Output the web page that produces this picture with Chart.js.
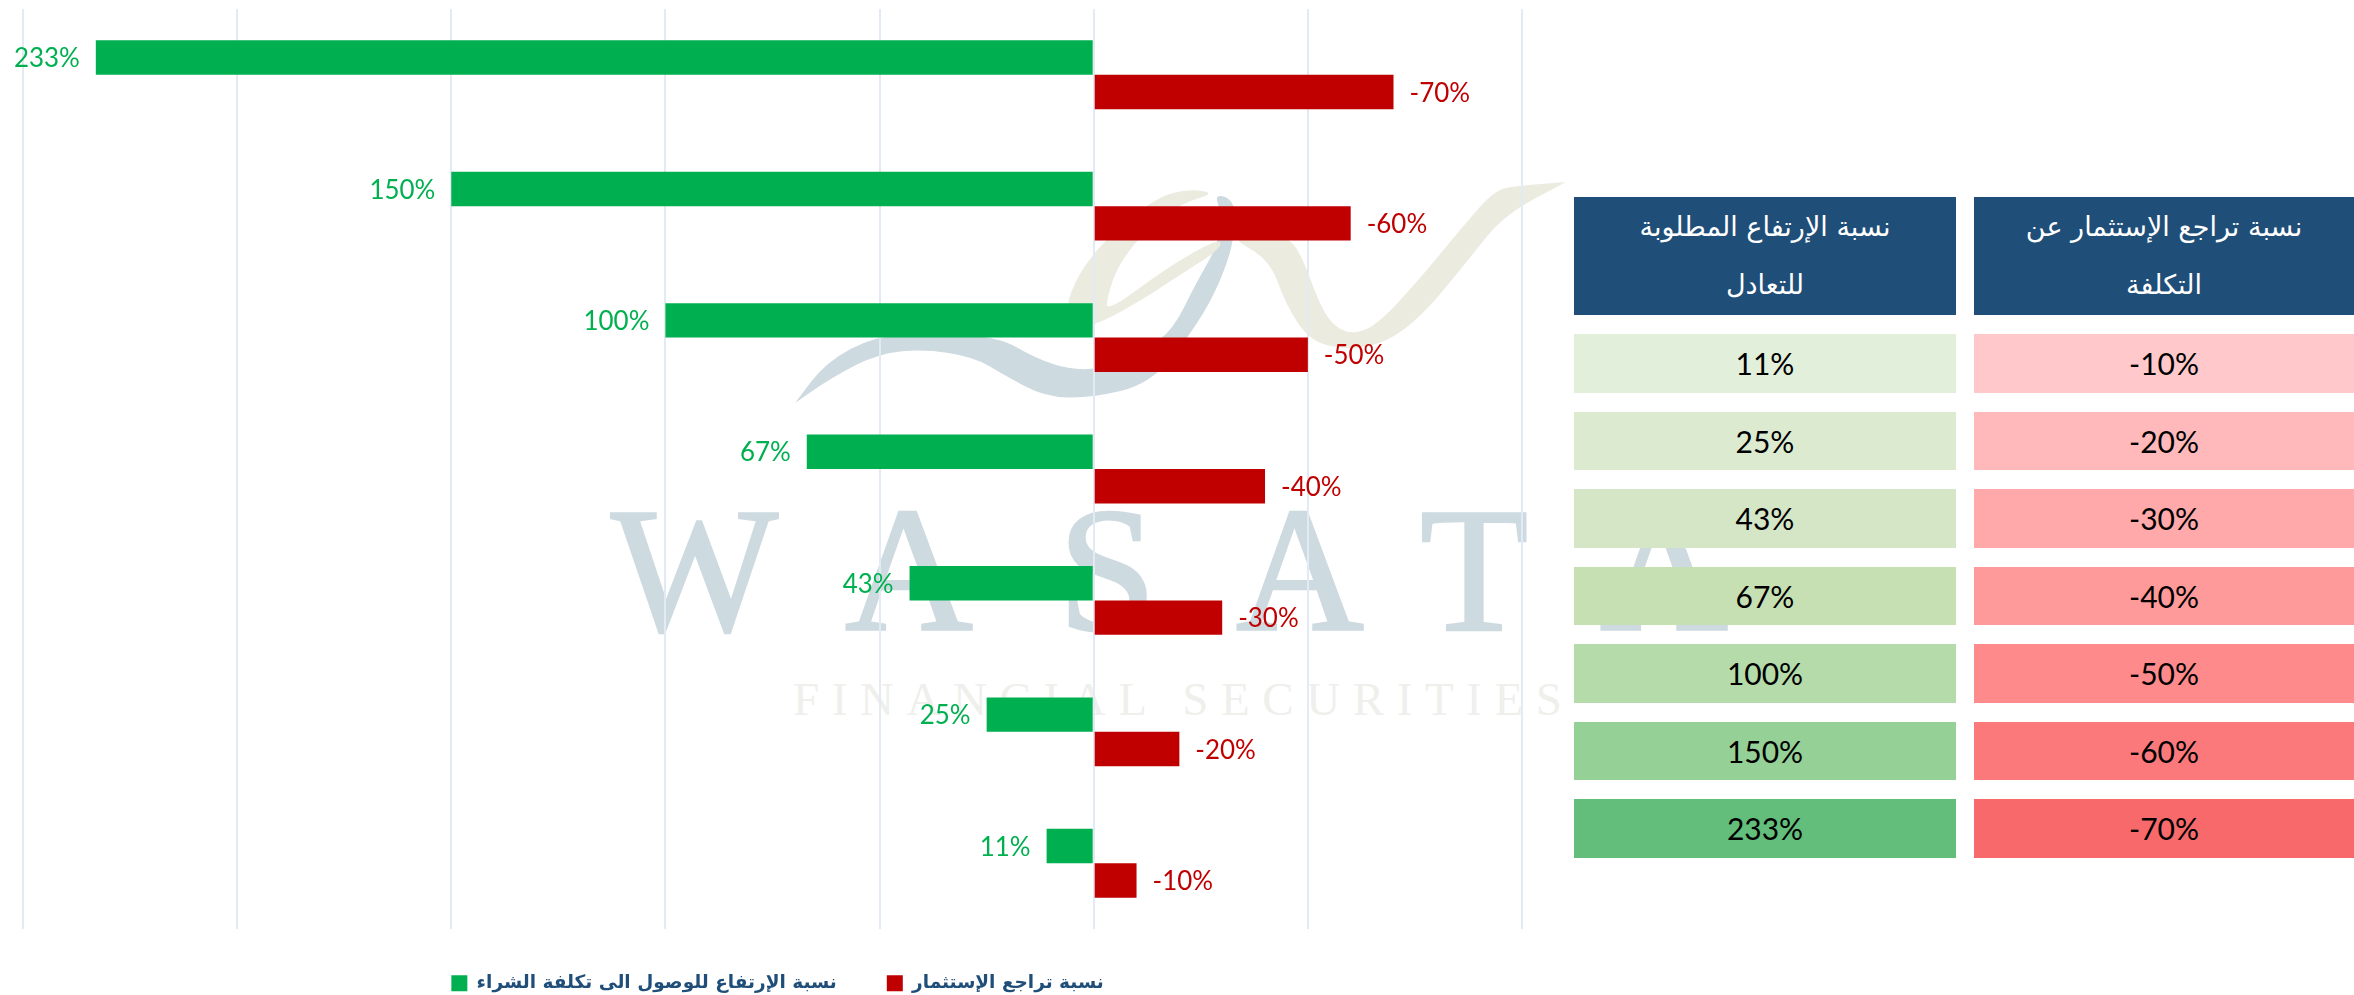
<!DOCTYPE html>
<html lang="ar">
<head>
<meta charset="utf-8">
<title>نسبة الإرتفاع المطلوبة للتعادل</title>
<script src="https://cdn.jsdelivr.net/npm/chart.js@4"></script>
<style>
  html, body { margin: 0; padding: 0; background: #fff; }
  #page { position: relative; width: 2354px; height: 995px; overflow: hidden; }
  #mark { position: absolute; left: 0; top: 0; }
  #wrap { position: absolute; left: 0; top: 0; width: 1574px; height: 995px; }
  .cell {
    position: absolute; display: flex; align-items: center; justify-content: center;
    font-family: Lato, sans-serif; font-size: 30px; color: #000;
  }
  .head {
    color: #fff; text-align: center; direction: rtl; white-space: pre-line;
    font-family: "DejaVu Sans", sans-serif; font-size: 27px; line-height: 58px;
  }
</style>
</head>
<body>
<div id="page">
  <svg id="mark" width="2354" height="995">
    <path id="swoosh" fill="#cddae0"/>
    <path id="loop" fill="#ebebdf"/>
    <path id="wave" fill="#ebebdf"/>
    <text font-family="Liberation Serif" font-size="177" fill="#cddae0" stroke="#cddae0" stroke-width="2.5" y="630" x="611 845 1058 1236 1420 1600">WASATA</text>
    <text font-family="Liberation Serif" font-size="47" fill="#efefec" y="715" x="793" textLength="769">FINANCIAL SECURITIES</text>
  </svg>
  <div id="wrap"><canvas id="chart-canvas"></canvas></div>
</div>
<script>
// -- Data -------------------------------------------------------------------

const categories = ['-70%', '-60%', '-50%', '-40%', '-30%', '-20%', '-10%'];
const requiredRise = [233, 150, 100, 67, 43, 25, 11];
const investmentDrop = [-70, -60, -50, -40, -30, -20, -10];

const riseLegend = 'نسبة الإرتفاع للوصول الى تكلفة الشراء';
const dropLegend = 'نسبة تراجع الإستثمار';

const tableHeaders = ['نسبة الإرتفاع المطلوبة\nللتعادل', 'نسبة تراجع الإستثمار عن\nالتكلفة'];
const tableRise = ['11%', '25%', '43%', '67%', '100%', '150%', '233%'];
const tableDrop = ['-10%', '-20%', '-30%', '-40%', '-50%', '-60%', '-70%'];
const riseShades = ['#e2efda', '#dcebd0', '#d5e6c6', '#c6e0b4', '#b4dba9', '#95d096', '#63be7b'];
const dropShades = ['#ffc9cb', '#ffb9ba', '#ffa9aa', '#ff9a9b', '#ff8a8b', '#fc797b', '#f8696b'];

const GREEN = '#00b050';
const RED = '#c00000';

// -- Watermark outlines (logo behind the chart, not data) --------------------
// A point listed twice keeps its corner sharp after smoothing

const swooshOutline = [[795, 403], [795, 403], [826, 362], [875, 336], [933, 333], [999, 337], [1035, 358], [1071, 370],
  [1107, 368], [1145, 350], [1173, 330], [1196, 283], [1217, 247], [1222, 215], [1214, 193], [1236, 201],
  [1234, 243], [1216, 292], [1190, 335], [1150, 384], [1091, 398], [1045, 397], [1004, 375], [974, 357],
  [923, 349], [877, 354], [831, 378]];
const loopOutline = [[1216, 193], [1188, 189], [1158, 197], [1115, 230], [1084, 265], [1067, 300], [1068, 326],
  [1094, 326], [1137, 303], [1183, 273], [1222, 248], [1219, 238], [1168, 267], [1107, 312], [1107, 297],
  [1119, 263], [1152, 223], [1183, 203]];
const waveOutline = [[1229, 237], [1270, 260], [1285, 303], [1310, 342], [1351, 350], [1387, 342], [1423, 315],
  [1469, 259], [1504, 215], [1566, 182], [1566, 182], [1515, 186], [1494, 191], [1464, 225], [1418, 281], [1377, 325],
  [1354, 334], [1336, 328], [1321, 308], [1300, 251], [1285, 236], [1260, 235]];

function smoothPath(points) {
  const mid = (a, b) => [(a[0] + b[0]) / 2, (a[1] + b[1]) / 2];
  let d = 'M' + mid(points[points.length - 1], points[0]).join(' ');
  points.forEach((p, i) => {
    d += ' Q' + p.join(' ') + ' ' + mid(p, points[(i + 1) % points.length]).join(' ');
  });
  return d + ' Z';
}

document.getElementById('swoosh').setAttribute('d', smoothPath(swooshOutline));
document.getElementById('loop').setAttribute('d', smoothPath(loopOutline));
document.getElementById('wave').setAttribute('d', smoothPath(waveOutline));

// -- Value labels -----------------------------------------------------------

const valueLabels = {
  id: 'valueLabels',
  afterDatasetsDraw(chart) {
    const { ctx } = chart;
    chart.data.datasets.forEach((dataset, di) => {
      chart.getDatasetMeta(di).data.forEach((bar, index) => {
        const value = dataset.data[index];
        ctx.save();
        ctx.direction = 'ltr';
        ctx.fillStyle = dataset.backgroundColor;
        ctx.font = '27px Lato';
        ctx.textBaseline = 'middle';
        ctx.textAlign = value > 0 ? 'right' : 'left';
        // Slightly condensed, the original face is narrower than Lato
        ctx.translate(bar.x + (value > 0 ? -16 : 16), bar.y + 1);
        ctx.scale(0.96, 1);
        ctx.fillText(value + '%', 0, 0);
        ctx.restore();
      });
    });
  },
};

// Legend needs wide item gaps but no tall band under the plot
const legendFit = {
  id: 'legendFit',
  beforeInit(chart) {
    const legend = chart.legend;
    const fit = legend.fit;
    const drawItems = legend._draw;
    legend.fit = function () {
      fit.call(this);
      this.height = 66;
    };
    legend._draw = function () {
      this.ctx.save();
      this.ctx.translate(9, -5);
      drawItems.call(this);
      this.ctx.restore();
    };
  },
};

// -- Chart ------------------------------------------------------------------

new Chart(document.getElementById('chart-canvas'), {
  type: 'bar',
  data: {
    labels: categories,
    datasets: [
      { label: riseLegend, data: requiredRise, backgroundColor: GREEN, borderWidth: 0 },
      { label: dropLegend, data: investmentDrop, backgroundColor: RED, borderWidth: 0 },
    ],
  },
  options: {
    indexAxis: 'y',
    responsive: true,
    maintainAspectRatio: false,
    animation: false,
    categoryPercentage: 0.524,
    barPercentage: 1,
    layout: { padding: { left: 15, right: 52, top: 9, bottom: 0 } },
    scales: {
      x: {
        reverse: true,
        min: -100,
        max: 250,
        ticks: { display: false, stepSize: 50 },
        grid: { color: '#e1eaf5', lineWidth: 2, drawTicks: false },
        border: { display: false },
      },
      y: {
        ticks: { display: false },
        grid: { display: false },
        border: { display: false },
      },
    },
    plugins: {
      tooltip: { enabled: false },
      legend: {
        position: 'bottom',
        textDirection: 'rtl',
        labels: {
          boxWidth: 16,
          boxHeight: 16,
          padding: 50,
          color: '#1f4e79',
          font: { family: 'DejaVu Sans', size: 18.5, weight: 'bold' },
        },
      },
    },
  },
  plugins: [valueLabels, legendFit],
});

// -- Table ------------------------------------------------------------------

const columns = [
  { left: 1574, width: 382, header: tableHeaders[0], cells: tableRise, shades: riseShades },
  { left: 1974, width: 380, header: tableHeaders[1], cells: tableDrop, shades: dropShades },
];
const rowTops = [334, 411.5, 489, 566.5, 644, 721.5, 799];
const page = document.getElementById('page');

function addBox(className, left, top, width, height, text, background) {
  const box = document.createElement('div');
  box.className = className;
  box.style.cssText = `left:${left}px;top:${top}px;width:${width}px;height:${height}px;background:${background}`;
  box.textContent = text;
  page.appendChild(box);
}

columns.forEach((col) => {
  addBox('cell head', col.left, 197, col.width, 118, col.header, '#1f4e79');
  col.cells.forEach((text, i) => {
    addBox('cell', col.left, rowTops[i], col.width, 58.5, text, col.shades[i]);
  });
});
</script>
</body>
</html>
